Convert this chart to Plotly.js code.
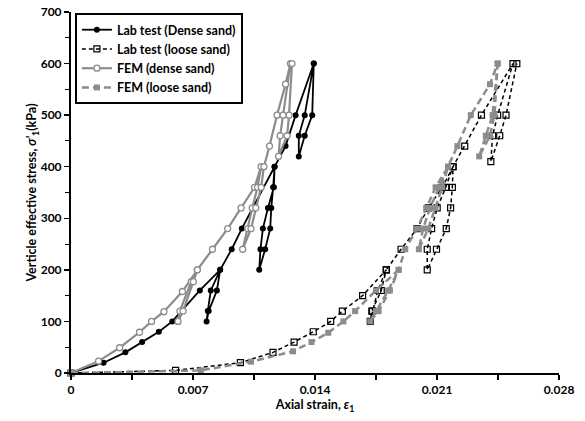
<!DOCTYPE html>
<html>
<head>
<meta charset="utf-8">
<script src="https://cdn.plot.ly/plotly-3.0.1.min.js"></script>
<style>html,body{margin:0;padding:0;background:#fff;}#chart{width:585px;height:421px;}</style>
</head>
<body>
<div id="chart"></div>
<script>
// Lab test (Dense sand)
var labDenseX = [0,0.00187,0.00312,0.00408,0.00504,0.00581,0.00739,0.00856,
  0.00837,0.0079,0.00778, 0.00785,0.00802,0.00856,
  0.00922,0.0098,0.01168,
  0.01164,0.0113,0.01101,0.01087,0.0108, 0.01114,0.01143,0.01149,0.0116,0.01168,
  0.01231,0.01289,0.01393, 0.01341,0.01307,0.01307, 0.01341,0.01384,0.01393];
var labDenseY = [0,20,40,60,80,100,160,200,
  160,120,100, 120,160,200,
  240,280,400,
  360,320,280,240,200, 240,280,320,360,400,
  440,500,600, 500,460,420, 460,500,600];

// Lab test (loose sand)
var labLooseX = [0,0.0060,0.00972,0.01159,0.0128,0.0139,0.0149,0.01557,0.01673,0.01809,
  0.0178,0.01726,0.01717, 0.0173,0.0176,0.01809,
  0.01894,0.01986,0.0205,0.0213,0.02192,
  0.02188,0.02178,0.02153,0.02097,0.02044, 0.02044,0.02069,0.02101,0.0215,0.02192,
  0.02259,0.02355,0.02536, 0.02448,0.02419,0.02409, 0.0246,0.02496,0.02558];
var labLooseY = [0,5,20,40,60,80,100,120,150,200,
  160,120,100, 120,160,200,
  240,280,320,360,400,
  360,320,280,240,200, 240,280,320,360,400,
  440,500,600, 500,460,410, 460,500,600];

// FEM (dense sand)
var femDenseX = [0,0.00158,0.00279,0.00393,0.00462,0.00533,0.00639,0.00725,
  0.0069,0.00625,0.00614, 0.00643,0.00702,0.00725,
  0.00812,0.00899,0.00976,0.01053,0.01091,
  0.0107,0.0104,0.01014,0.00985, 0.01033,0.0106,0.01091,0.01107,
  0.01139,0.01182,0.01231,0.01259, 0.01217,0.0120,0.01191, 0.0124,0.01251,0.01268];
var femDenseY = [0,23,49,79,100,119,158,200,
  177,120,100, 120,177,200,
  240,280,320,360,400,
  360,320,280,240, 280,320,360,400,
  440,500,560,600, 500,460,420, 460,500,600];

// FEM (loose sand)
var femLooseX = [0,0.00745,0.01033,0.01274,0.0138,0.01476,0.01563,0.0163,0.0175,0.0188,
  0.0182,0.0175,0.01717, 0.01765,0.0183,0.0188,
  0.01918,0.01986,0.02038,0.02092,0.02163,
  0.0213,0.0209,0.0205,0.01996, 0.0202,0.0206,0.0211,0.02163,
  0.02217,0.02294,0.02404,0.02448, 0.02419,0.0238,0.02342, 0.02404,0.0243,0.02448];
var femLooseY = [0,5,22,42,60,78,100,120,160,200,
  160,120,100, 120,160,200,
  240,280,320,360,400,
  360,320,280,240, 280,320,360,400,
  440,500,560,600, 500,460,420, 460,500,600];

var xTickVals = [0,0.007,0.014,0.021,0.028];
var xTickText = ['0','0.007','0.014','0.021','0.028'];
var yTickVals = [0,100,200,300,400,500,600,700];

var traces = [
  {x: labDenseX, y: labDenseY, name: 'Lab test (Dense sand)', mode: 'lines+markers',
   line: {color: '#000', width: 1.8},
   marker: {symbol: 'circle', size: 6, color: '#000'}, cliponaxis: false},
  {x: labLooseX, y: labLooseY, name: 'Lab test (loose sand)', mode: 'lines+markers',
   line: {color: '#000', width: 1.5, dash: '4px,3px'},
   marker: {symbol: 'square-open', size: 6, color: '#000', line: {width: 1.2}}, cliponaxis: false},
  {x: femDenseX, y: femDenseY, name: 'FEM (dense sand)', mode: 'lines+markers',
   line: {color: '#8c8c8c', width: 2.2},
   marker: {symbol: 'circle', size: 6, color: '#fff', line: {color: '#8c8c8c', width: 1.3}}, cliponaxis: false},
  {x: femLooseX, y: femLooseY, name: 'FEM (loose sand)', mode: 'lines+markers',
   line: {color: '#8c8c8c', width: 2.5, dash: '7px,4px'},
   marker: {symbol: 'square', size: 6, color: '#8c8c8c'}, cliponaxis: false}
];

var fam = 'Lato, "DejaVu Sans", sans-serif';
var tickF = {family: fam, size: 12, color: '#000', weight: 'bold'};
var titleF = {family: fam, size: 12.5, color: '#000', weight: 'bold'};

var layout = {
  width: 585, height: 421,
  margin: {l: 71, r: 26, t: 12, b: 48},
  paper_bgcolor: '#fff', plot_bgcolor: '#fff',
  showlegend: true,
  legend: {x: 0.008, y: 0.997, xanchor: 'left', yanchor: 'top',
    bordercolor: '#000', borderwidth: 2, bgcolor: '#fff',
    font: {family: fam, size: 12.5, color: '#000', weight: 'bold'},
    itemwidth: 30, tracegroupgap: 0},
  xaxis: {range: [0, 0.028], tickvals: xTickVals, ticktext: xTickText,
    showgrid: false, zeroline: false, showline: true, linecolor: '#000', linewidth: 2,
    ticks: 'outside', ticklen: 5, tickwidth: 1.5, tickcolor: '#000',
    minor: {dtick: 0.0035, ticks: 'outside', ticklen: 5, tickwidth: 1.5, tickcolor: '#000'},
    tickfont: tickF,
    title: {text: 'Axial strain, <i>ε</i><sub>1</sub>', font: titleF, standoff: 3}},
  yaxis: {range: [0, 700], tickvals: yTickVals,
    showgrid: false, zeroline: false, showline: true, linecolor: '#000', linewidth: 2,
    ticks: 'outside', ticklen: 5, tickwidth: 1.5, tickcolor: '#000',
    minor: {dtick: 50, ticks: 'outside', ticklen: 4, tickwidth: 1, tickcolor: '#000'},
    tickfont: tickF,
    title: {text: 'Verticle effective stress, <i>σ\'</i><sub>1</sub>(kPa)', font: titleF, standoff: 0}}
};

Plotly.newPlot('chart', traces, layout, {displayModeBar: false, staticPlot: true});
</script>
</body>
</html>
